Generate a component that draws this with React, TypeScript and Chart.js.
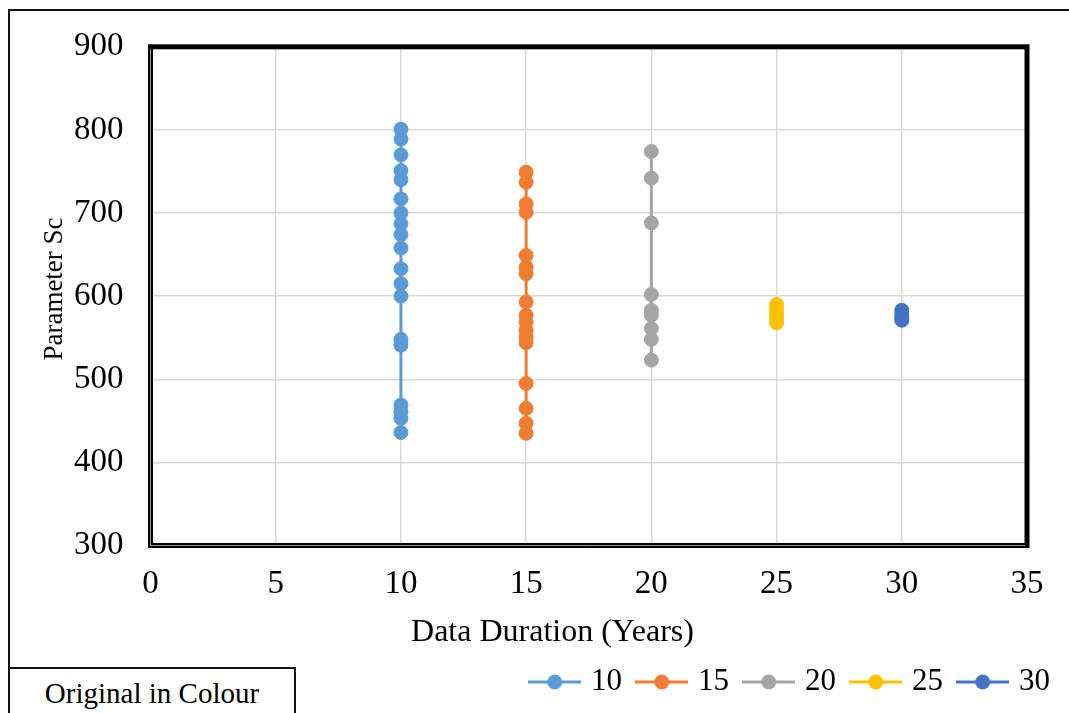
import React, { useEffect, useRef } from 'react';
import { Chart, registerables } from 'chart.js';

Chart.register(...registerables);

// ---- data ----
const seriesNames = ['10', '15', '20', '25', '30'];
const durations = [10, 15, 20, 25, 30];
const sc10 = [801, 789, 770, 751, 740, 717, 700, 687, 674, 658, 633, 615, 600, 548, 541, 469, 461, 453, 436];
const sc15 = [749, 737, 711, 701, 649, 635, 627, 593, 577, 569, 559, 551, 544, 495, 465, 447, 435];
const sc20 = [774, 742, 688, 602, 583, 577, 561, 548, 523];
const sc25 = [590, 584, 578, 573, 568];
const sc30 = [583, 578, 574, 571];
const seriesValues = [sc10, sc15, sc20, sc25, sc30];
const colors = ['#5B9BD5', '#ED7D31', '#A5A5A5', '#FFC000', '#4472C4'];
const xMin = 0, xMax = 35, xStep = 5;
const yMin = 300, yMax = 900, yStep = 100;
const xTitle = 'Data Duration (Years)';
const yTitle = 'Parameter Sc';
const noteText = 'Original in Colour';

const FONT = "'Liberation Serif', 'Times New Roman', serif";

function makeLegendIcon(color: string): HTMLCanvasElement {
  const c = document.createElement('canvas');
  c.width = 53;
  c.height = 20;
  const ctx = c.getContext('2d')!;
  ctx.strokeStyle = color;
  ctx.lineWidth = 3;
  ctx.beginPath();
  ctx.moveTo(0, 10);
  ctx.lineTo(53, 10);
  ctx.stroke();
  ctx.fillStyle = color;
  ctx.beginPath();
  ctx.arc(26.5, 10, 7.5, 0, Math.PI * 2);
  ctx.fill();
  return c;
}

const framePlugin = {
  id: 'plotFrame',
  afterDraw(chart: any) {
    const { ctx, chartArea } = chart;
    const { left, right, top, bottom } = chartArea;
    ctx.save();
    ctx.strokeStyle = '#000';
    ctx.lineWidth = 5;
    ctx.strokeRect(left, top, right - left, bottom - top);
    ctx.strokeStyle = '#9a9a9a';
    ctx.lineWidth = 1;
    ctx.beginPath();
    ctx.moveTo(left, top + 2);
    ctx.lineTo(left, bottom);
    ctx.lineTo(right - 2, bottom);
    ctx.stroke();
    ctx.restore();
  },
};

export default function App() {
  const canvasRef = useRef<HTMLCanvasElement | null>(null);

  useEffect(() => {
    document.documentElement.style.overflow = 'hidden';
    document.body.style.overflow = 'hidden';
    const canvas = canvasRef.current;
    if (!canvas) return;
    Chart.defaults.font.family = FONT;
    Chart.defaults.color = '#000';
    const icons = colors.map(makeLegendIcon);

    const datasets = seriesNames.map((name, i) => ({
      label: name,
      data: seriesValues[i].map((v) => ({ x: durations[i], y: v })),
      xAxisID: 'x',
      yAxisID: 'y',
      borderColor: colors[i],
      backgroundColor: colors[i],
      pointBackgroundColor: colors[i],
      pointBorderColor: colors[i],
      pointRadius: 7,
      pointBorderWidth: 1,
      borderWidth: 3,
      showLine: true,
    }));

    const chart = new Chart(canvas, {
      type: 'scatter',
      data: { datasets },
      plugins: [framePlugin],
      options: {
        animation: false,
        responsive: true,
        maintainAspectRatio: false,
        layout: { padding: { left: 0, right: 0, top: 46.5, bottom: 5.5 } },
        plugins: {
          tooltip: { enabled: false },
          legend: {
            position: 'bottom',
            align: 'end',
            labels: {
              usePointStyle: true,
              pointStyleWidth: 41.5,
              padding: 19,
              font: { size: 31, family: FONT },
              color: '#000',
              generateLabels: (ch: any) => {
                const base = Chart.defaults.plugins.legend.labels.generateLabels(ch);
                return base.map((item: any, i: number) => ({ ...item, pointStyle: icons[i] }));
              },
            },
          },
        },
        scales: {
          x: {
            type: 'linear',
            min: xMin,
            max: xMax,
            afterFit: (s: any) => { s.height = 102; },
            ticks: { stepSize: xStep, padding: 0, font: { size: 33, family: FONT }, color: '#000' },
            grid: { color: '#d9d9d9', lineWidth: 1.5, drawTicks: true, tickLength: 19, tickColor: 'rgba(0,0,0,0)' },
            border: { display: false },
            title: { display: false, text: xTitle },
          },
          y: {
            type: 'linear',
            position: 'left',
            min: yMin,
            max: yMax,
            afterFit: (s: any) => { s.width = 150.5; },
            ticks: { stepSize: yStep, padding: 27, font: { size: 33, family: FONT }, color: '#000' },
            grid: { color: '#d9d9d9', lineWidth: 1.5, drawTicks: false },
            border: { display: false },
            title: { display: false, text: yTitle },
          },
          yRightSpace: {
            type: 'linear',
            position: 'right',
            min: 0,
            max: 1,
            afterFit: (s: any) => { s.width = 42; },
            ticks: { display: false },
            grid: { display: false },
            border: { display: false },
          },
        },
      },
    });
    return () => chart.destroy();
  }, []);

  return (
    <div style={{ position: 'fixed', left: 0, top: 0, width: 1069, height: 713, overflow: 'hidden', background: '#fff' }}>
      <div style={{ position: 'absolute', left: 8, top: 9, width: 1200, height: 900, borderLeft: '2px solid #111', borderTop: '2px solid #111' }} />
      <div style={{ position: 'absolute', left: 0, top: 0, width: 1069, height: 713 }}>
        <canvas ref={canvasRef} />
      </div>
      <div
        style={{
          position: 'absolute', left: 252.5, top: 614, width: 600, height: 36, textAlign: 'center',
          fontFamily: FONT, fontSize: 32, lineHeight: '32px', color: '#000', whiteSpace: 'nowrap',
        }}
      >
        {xTitle}
      </div>
      <div
        style={{
          position: 'absolute', left: -147, top: 272, width: 400, height: 34, textAlign: 'center',
          fontFamily: FONT, fontSize: 27, lineHeight: '34px', color: '#000', whiteSpace: 'nowrap',
          transform: 'rotate(-90deg)', transformOrigin: '50% 50%',
        }}
      >
        {yTitle}
      </div>
      <div
        style={{
          position: 'absolute', left: 8, top: 667, width: 288, height: 70, boxSizing: 'border-box',
          border: '2px solid #111', background: '#fff', fontFamily: FONT, fontSize: 29, lineHeight: '32px',
          paddingTop: 8, textAlign: 'center', color: '#000',
        }}
      >
        {noteText}
      </div>
    </div>
  );
}
